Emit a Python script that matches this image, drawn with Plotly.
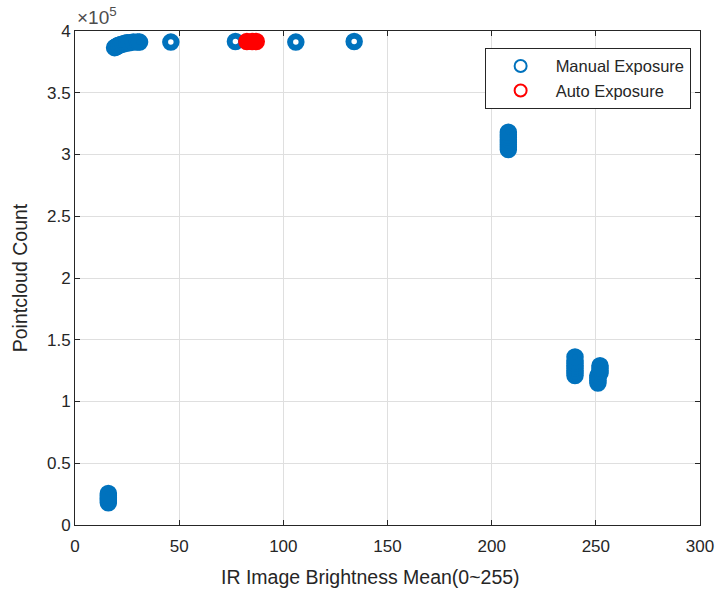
import plotly.graph_objects as go

# Manual exposure measurements: brightness mean vs. point cloud count
manual_x = [16, 16, 16, 16, 16, 16,
            19, 19.5, 20, 20.5, 21, 22, 23, 24, 25, 26, 28, 30, 31,
            46, 77, 106, 134,
            208, 208, 208, 208, 208, 208, 208, 208,
            240, 240, 240, 240, 240, 240, 240, 240,
            251, 251, 251, 251, 252, 252, 252, 252]
manual_y = [18000, 19500, 21000, 22500, 24000, 25500,
            386500, 387000, 387500, 388000, 388500, 389000, 389500, 390000, 390500, 390500, 391000, 391000, 391000,
            391000, 391500, 391000, 391500,
            304000, 306000, 308000, 310000, 312000, 314000, 316000, 318000,
            121000, 123000, 125000, 127000, 129000, 131000, 133000, 136000,
            115000, 117000, 119000, 121000, 123000, 125000, 127000, 129000]

# Auto exposure measurements
auto_x = [82.5, 85, 87]
auto_y = [391500, 391500, 391500]

y_ticks = [0, 50000, 100000, 150000, 200000, 250000, 300000, 350000, 400000]
y_tick_text = ["0", "0.5", "1", "1.5", "2", "2.5", "3", "3.5", "4"]
x_ticks = [0, 50, 100, 150, 200, 250, 300]

FONT = "Liberation Sans, Arial, Helvetica"
TXT = "#262626"

marker_style = dict(symbol="circle-open", size=11.5, line=dict(width=6))

fig = go.Figure()
fig.add_trace(go.Scatter(x=manual_x, y=manual_y, mode="markers", name="Manual Exposure",
                         marker=dict(color="#0072BD", **marker_style)))
fig.add_trace(go.Scatter(x=auto_x, y=auto_y, mode="markers", name="Auto Exposure",
                         marker=dict(color="#FF0000", **marker_style)))

axis_common = dict(showgrid=True, gridcolor="#DFDFDF", gridwidth=1,
                   showline=True, linecolor=TXT, linewidth=1, mirror="allticks",
                   ticks="inside", ticklen=5, tickcolor=TXT,
                   tickfont=dict(family=FONT, size=17, color=TXT),
                   zeroline=False, automargin=False)

fig.update_layout(
    width=716, height=589,
    margin=dict(l=75, r=16, t=31, b=64),
    paper_bgcolor="white", plot_bgcolor="white",
    xaxis=dict(range=[0, 300], tickvals=x_ticks, ticklabelstandoff=6, **axis_common),
    yaxis=dict(range=[0, 400000], tickvals=y_ticks, ticktext=y_tick_text,
               title=dict(text="Pointcloud Count", standoff=14,
                          font=dict(family=FONT, size=19.5, color=TXT)),
               **axis_common),
    legend=dict(x=0.985, y=0.966, xanchor="right", yanchor="top",
                bgcolor="white", bordercolor=TXT, borderwidth=1,
                font=dict(family=FONT, size=16.5, color=TXT),
                itemsizing="constant", itemwidth=60, tracegroupgap=0),
    showlegend=True,
)

# x-axis label
fig.add_annotation(x=0.472, y=0, xref="paper", yref="paper", xanchor="center", yanchor="middle",
                   yshift=-52, text="IR Image Brightness Mean(0~255)", showarrow=False,
                   font=dict(family=FONT, size=19.5, color=TXT))

# exponent of the y-axis scale
fig.add_annotation(x=0, y=1, xref="paper", yref="paper", xanchor="left", yanchor="bottom",
                   text="×10<sup>5</sup>", showarrow=False, yshift=1,
                   font=dict(family=FONT, size=19, color="#4d4d4d"))

fig.write_html("out.html")
